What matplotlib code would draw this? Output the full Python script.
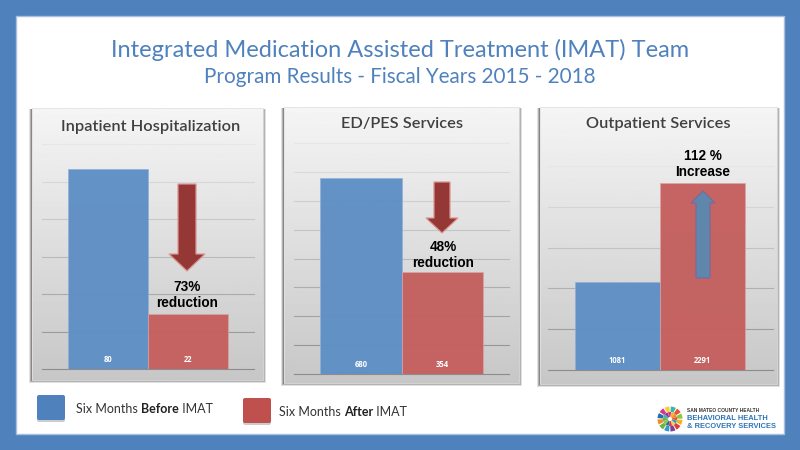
import numpy as np
from matplotlib import pyplot as plt
from matplotlib.patches import Rectangle, FancyBboxPatch, Polygon, Wedge

# values
titles = ['Inpatient Hospitalization', 'ED/PES Services', 'Outpatient Services']
before = [80, 680, 1081]
after = [22, 354, 2291]
y_max = [90, 800, 2500]
y_step = [15, 100, 500]
notes = ['73%\nreduction', '48%\nreduction', '112 %\nIncrease']

BLUE = '#4F81BD'
RED = '#C0504D'
W, H = 800, 450

plt.rcParams['font.family'] = ['Lato', 'DejaVu Sans']
fig = plt.figure(figsize=(8, 4.5), dpi=100)
fig.patch.set_facecolor(BLUE)

# whole slide in pixel coordinates, y going down
bg = fig.add_axes([0, 0, 1, 1], zorder=0)
bg.set_xlim(0, W)
bg.set_ylim(H, 0)
bg.axis('off')
bg.add_patch(Rectangle((16, 16), 768, 418, fc='white', ec='#a9bfdc', lw=1))

bg.text(400, 50, 'Integrated Medication Assisted Treatment (IMAT) Team', color='#4F81BD',
        fontsize=17, ha='center', va='center')
bg.text(400, 77, 'Program Results - Fiscal Years 2015 - 2018', color='#4F81BD',
        fontsize=14.9, ha='center', va='center')

# panel box, axes box, bar edges, title centre
panels = [
    dict(box=(32, 108, 263, 380), ax=(42, 254, 144, 369), bars=(68, 148, 228), tx=(151, 127)),
    dict(box=(284, 107, 519, 383), ax=(294, 509, 143, 374), bars=(320, 402, 483), tx=(402, 124)),
    dict(box=(540, 107, 777, 384), ax=(548, 773, 166, 370), bars=(575, 660, 745), tx=(658, 124)),
]
grad = np.linspace(0.96, 0.78, 256).reshape(-1, 1)

for i, p in enumerate(panels):
    x0, y0, x1, y1 = p['box']
    # soft shadow
    for off, al in [(3, 0.12), (2, 0.2), (1, 0.25)]:
        bg.add_patch(Rectangle((x0 - off, y0 + 1), x1 - x0 + 2 * off, y1 - y0 - 1 + off, fc='black', ec='none', alpha=al))
    bg.imshow(grad, cmap='gray', vmin=0, vmax=1, extent=(x0, x1, y1, y0), aspect='auto', zorder=2)
    bg.add_patch(Rectangle((x0, y0), x1 - x0, y1 - y0, fc='none', ec='#e2e2e2', lw=0.6, zorder=3))
    bg.text(p['tx'][0], p['tx'][1], titles[i], color='#404040', fontsize=11.8, fontweight='semibold',
            ha='center', va='center', zorder=3)

    ax_l, ax_r, ax_t, ax_b = p['ax']
    ax = fig.add_axes([ax_l / W, 1 - ax_b / H, (ax_r - ax_l) / W, (ax_b - ax_t) / H], zorder=1 + i)
    ax.patch.set_alpha(0)
    b0, b1, b2 = p['bars']
    ax.set_xlim(ax_l, ax_r)
    ax.set_ylim(0, y_max[i])
    ax.set_yticks(np.arange(0, y_max[i] + 1, y_step[i]))
    ax.set_xticks([])
    ax.tick_params(left=False, labelleft=False)
    for s in ax.spines.values():
        s.set_visible(False)
    ax.set_axisbelow(True)
    ax.grid(True, axis='y')
    lines = ax.get_ygridlines()
    shades = np.linspace(0.55, 0.9, len(lines))
    for ln, g in zip(lines, shades):
        ln.set_color(str(g))
        ln.set_linewidth(0.8)
        ln.set_clip_on(False)
    ax.bar(b0, before[i], width=b1 - b0, align='edge', color='#5F8FC5', alpha=0.97, ec='#8fb0d8', lw=0.5)
    ax.bar(b1, after[i], width=b2 - b1, align='edge', color='#C4605E', alpha=0.97, ec='#dba5a3', lw=0.5)
    ax.annotate(str(before[i]), (b0 + (b1 - b0) / 2, 0), xytext=(0, 6.5), textcoords='offset points',
                color='white', family='Open Sans', fontsize=5.5, fontweight='bold', ha='center', va='center')
    ax.annotate(str(after[i]), (b1 + (b2 - b1) / 2, 0), xytext=(0, 6.5), textcoords='offset points',
                color='white', family='Open Sans', fontsize=5.5, fontweight='bold', ha='center', va='center')

# overlay for arrows and notes, above the charts
top = fig.add_axes([0, 0, 1, 1], zorder=10)
top.set_xlim(0, W)
top.set_ylim(H, 0)
top.axis('off')


def arrow(cx, half_shaft, half_head, y_tail, y_neck, y_tip, fc, ec):
    pts = [(cx - half_shaft, y_tail), (cx + half_shaft, y_tail), (cx + half_shaft, y_neck),
           (cx + half_head, y_neck), (cx, y_tip), (cx - half_head, y_neck), (cx - half_shaft, y_neck)]
    top.add_patch(Polygon(pts, closed=True, fc=fc, ec=ec, lw=0.9))


arrow(187, 9, 18, 184, 254, 271, '#953735', '#d99694')
arrow(442, 8, 16, 182, 218, 233, '#953735', '#d99694')
arrow(703, 7, 12, 278, 203, 191, '#5F87AB', '#7a6a9c')

note_pos = [(187, 295), (443, 255), (703, 164)]
for (nx, ny), n in zip(note_pos, notes):
    top.text(nx, ny, n, family='Liberation Sans', fontsize=9.8, fontweight='bold', color='black',
             ha='center', va='center', linespacing=1.1)

# legend
legend = [(37, 395, BLUE, 76, 409, 'Before'), (243, 398, RED, 279, 412, 'After')]
for sx, sy, col, tx, ty, word in legend:
    top.add_patch(FancyBboxPatch((sx + 2, sy + 3), 24, 22, boxstyle='round,pad=2', fc='black', ec='none', alpha=0.2))
    top.add_patch(FancyBboxPatch((sx + 2, sy + 2), 24, 21, boxstyle='round,pad=2', fc=col, ec='none'))
    t1 = top.text(tx, ty, 'Six Months ', color='#333333', fontsize=9, va='center')
    t2 = top.annotate(word, xy=(1, 0.5), xycoords=t1, va='center', fontsize=9,
                      fontweight='bold', color='#222222')
    top.annotate(' IMAT', xy=(1, 0.5), xycoords=t2, va='center', fontsize=9, color='#333333')

# logo
logo_cols = ['#F4B324', '#E23C3A', '#7B3F98', '#2E9AD0', '#6DB33F', '#F28C28', '#1F6FB2', '#D9368B',
             '#F4D03F', '#3CB4A6', '#E8542F', '#8CC63F']
n = len(logo_cols)
for k, c in enumerate(logo_cols):
    a = 360 / n * k
    top.add_patch(Wedge((670, 419), 12.5, a + 4, a + 28, width=5.5, fc=c, ec='none'))
    top.add_patch(Wedge((670, 419), 7, a + 12, a + 40, width=5, fc=logo_cols[(k * 5 + 3) % n], ec='none'))
top.text(687, 411, 'SAN MATEO COUNTY HEALTH', family='Liberation Sans', fontsize=3.5, fontweight='bold',
         color='#333333', va='center')
top.text(687, 418.5, 'BEHAVIORAL HEALTH', family='Liberation Sans', fontsize=5.4, fontweight='bold',
         color='#2E75B6', va='center')
top.text(687, 426, '& RECOVERY SERVICES', family='Liberation Sans', fontsize=5.4, fontweight='bold',
         color='#2E75B6', va='center')

fig.savefig('out.png', dpi=100, facecolor=fig.get_facecolor())
